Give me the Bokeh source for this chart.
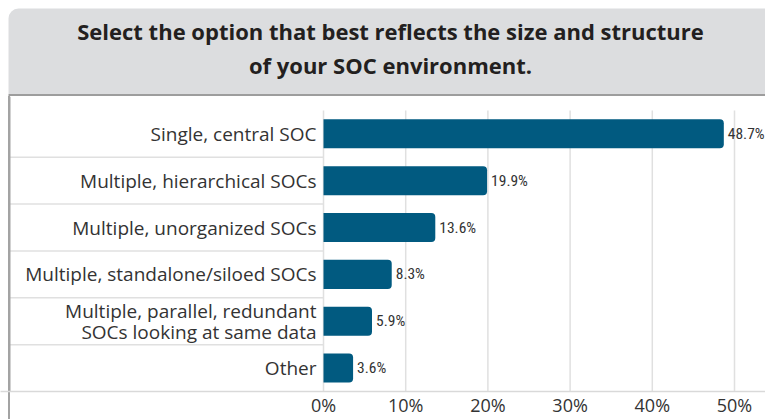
from bokeh.plotting import figure
from bokeh.layouts import column
from bokeh.models import Range1d, FixedTicker, PrintfTickFormatter, ColumnDataSource
from bokeh.core.properties import value
from bokeh.embed import file_html
from bokeh.resources import INLINE

# ---- data ----
title_lines = ["Select the option that best reflects the size and structure",
               "of your SOC environment."]
categories = ["Single, central SOC",
              "Multiple, hierarchical SOCs",
              "Multiple, unorganized SOCs",
              "Multiple, standalone/siloed SOCs",
              "Multiple, parallel, redundant\nSOCs looking at same data",
              "Other"]
values = [48.7, 19.9, 13.6, 8.3, 5.9, 3.6]
value_labels = ["48.7%", "19.9%", "13.6%", "8.3%", "5.9%", "3.6%"]
x_ticks = [0, 10, 20, 30, 40, 50]

BAR = "#015a80"
TXT = "#333333"
GRID = "#e0e0e0"
BORDER = "#a3a3a3"
LABEL_FONT = value("Open Sans")
VAL_FONT = value("Liberation Sans Narrow, Roboto Condensed, DejaVu Sans Condensed")

W = 765
HEAD_H = 96
BODY_H = 323
ZERO_PX = 323          # page x of the 0% line
PX_PER_UNIT = 8.22     # pixels per percentage point

# ---- header ----
h = figure(width=W, height=HEAD_H, x_range=Range1d(0, W), y_range=Range1d(0, HEAD_H),
           output_backend="svg", toolbar_location=None, min_border=0,
           x_axis_location=None, y_axis_location=None, outline_line_color=None)
h.grid.visible = False
h.quad(left=[8], right=[W + 20], bottom=[2.5], top=[HEAD_H - 8], fill_color="#dcdddf",
       line_color=None, border_radius=(10, 0, 0, 0))
h.segment(x0=[8], x1=[W + 20], y0=[1.5], y1=[1.5], line_color="#9d9d9d", line_width=2)
h.text(x=[390, 390], y=[66, 32], text=title_lines, text_align="center",
       text_baseline="middle", text_font=value("Open Sans"), text_font_style="bold",
       text_font_size="22px", text_color="#231f20")

# ---- body ----
n = len(categories)
ys = list(range(n - 1, -1, -1))
src = ColumnDataSource(dict(y=ys, v=values, cat=categories, lab=value_labels))

x_start = -ZERO_PX / PX_PER_UNIT
x_end = (W - ZERO_PX) / PX_PER_UNIT
row_px = 283 / n
y_end = n - 0.5 + 14 / row_px

p = figure(width=W, height=BODY_H, x_range=Range1d(x_start, x_end),
           y_range=Range1d(-0.5, y_end), output_backend="svg", toolbar_location=None,
           min_border_left=0, min_border_right=0, min_border_top=0, min_border_bottom=20,
           y_axis_location=None, outline_line_color=None,
           styles={"background": "linear-gradient(90deg, transparent 8px, %s 8px, %s 10px, transparent 10px)" % (BORDER, BORDER)})
p.grid.visible = False
p.border_fill_color = None
p.background_fill_color = None

# gridlines
p.segment(x0=x_ticks, x1=x_ticks, y0=[-0.5] * len(x_ticks), y1=[n - 0.5] * len(x_ticks),
          line_color=GRID, line_width=1.5)
# row separators in label area
seps = [i + 0.5 for i in range(n - 1)]
border_x = x_start + 9 / PX_PER_UNIT
p.segment(x0=[border_x] * len(seps), x1=[0] * len(seps), y0=seps, y1=seps,
          line_color=GRID, line_width=1.5)
# left border
p.segment(x0=[border_x], x1=[border_x], y0=[-0.5], y1=[y_end],
          line_color=BORDER, line_width=2)

p.hbar(y="y", left=0, right="v", height=0.62, source=src, fill_color=BAR,
       line_color=None, border_radius=(0, 4, 4, 0))
p.text(x="v", y="y", text="lab", source=src, x_offset=4, text_align="left",
       text_baseline="middle", text_font=VAL_FONT, text_font_size="15.5px", text_color=TXT)
p.text(x=0, y="y", text="cat", source=src, x_offset=-7, text_align="right",
       text_baseline="middle", text_font=LABEL_FONT, text_font_size="19px",
       text_color=TXT, text_line_height=0.8)

ax = p.xaxis[0]
ax.ticker = FixedTicker(ticks=x_ticks)
ax.formatter = PrintfTickFormatter(format="%d%%")
ax.major_tick_line_color = None
ax.minor_tick_line_color = None
ax.major_tick_out = 0
ax.major_tick_in = 0
ax.axis_line_color = "#d9d9d9"
ax.axis_line_width = 1.5
ax.major_label_text_font = "Open Sans"
ax.major_label_text_font_size = "18px"
ax.major_label_text_color = TXT
ax.major_label_standoff = 1

layout = column(h, p, spacing=0)
open("out.html", "w").write(file_html(layout, INLINE))
